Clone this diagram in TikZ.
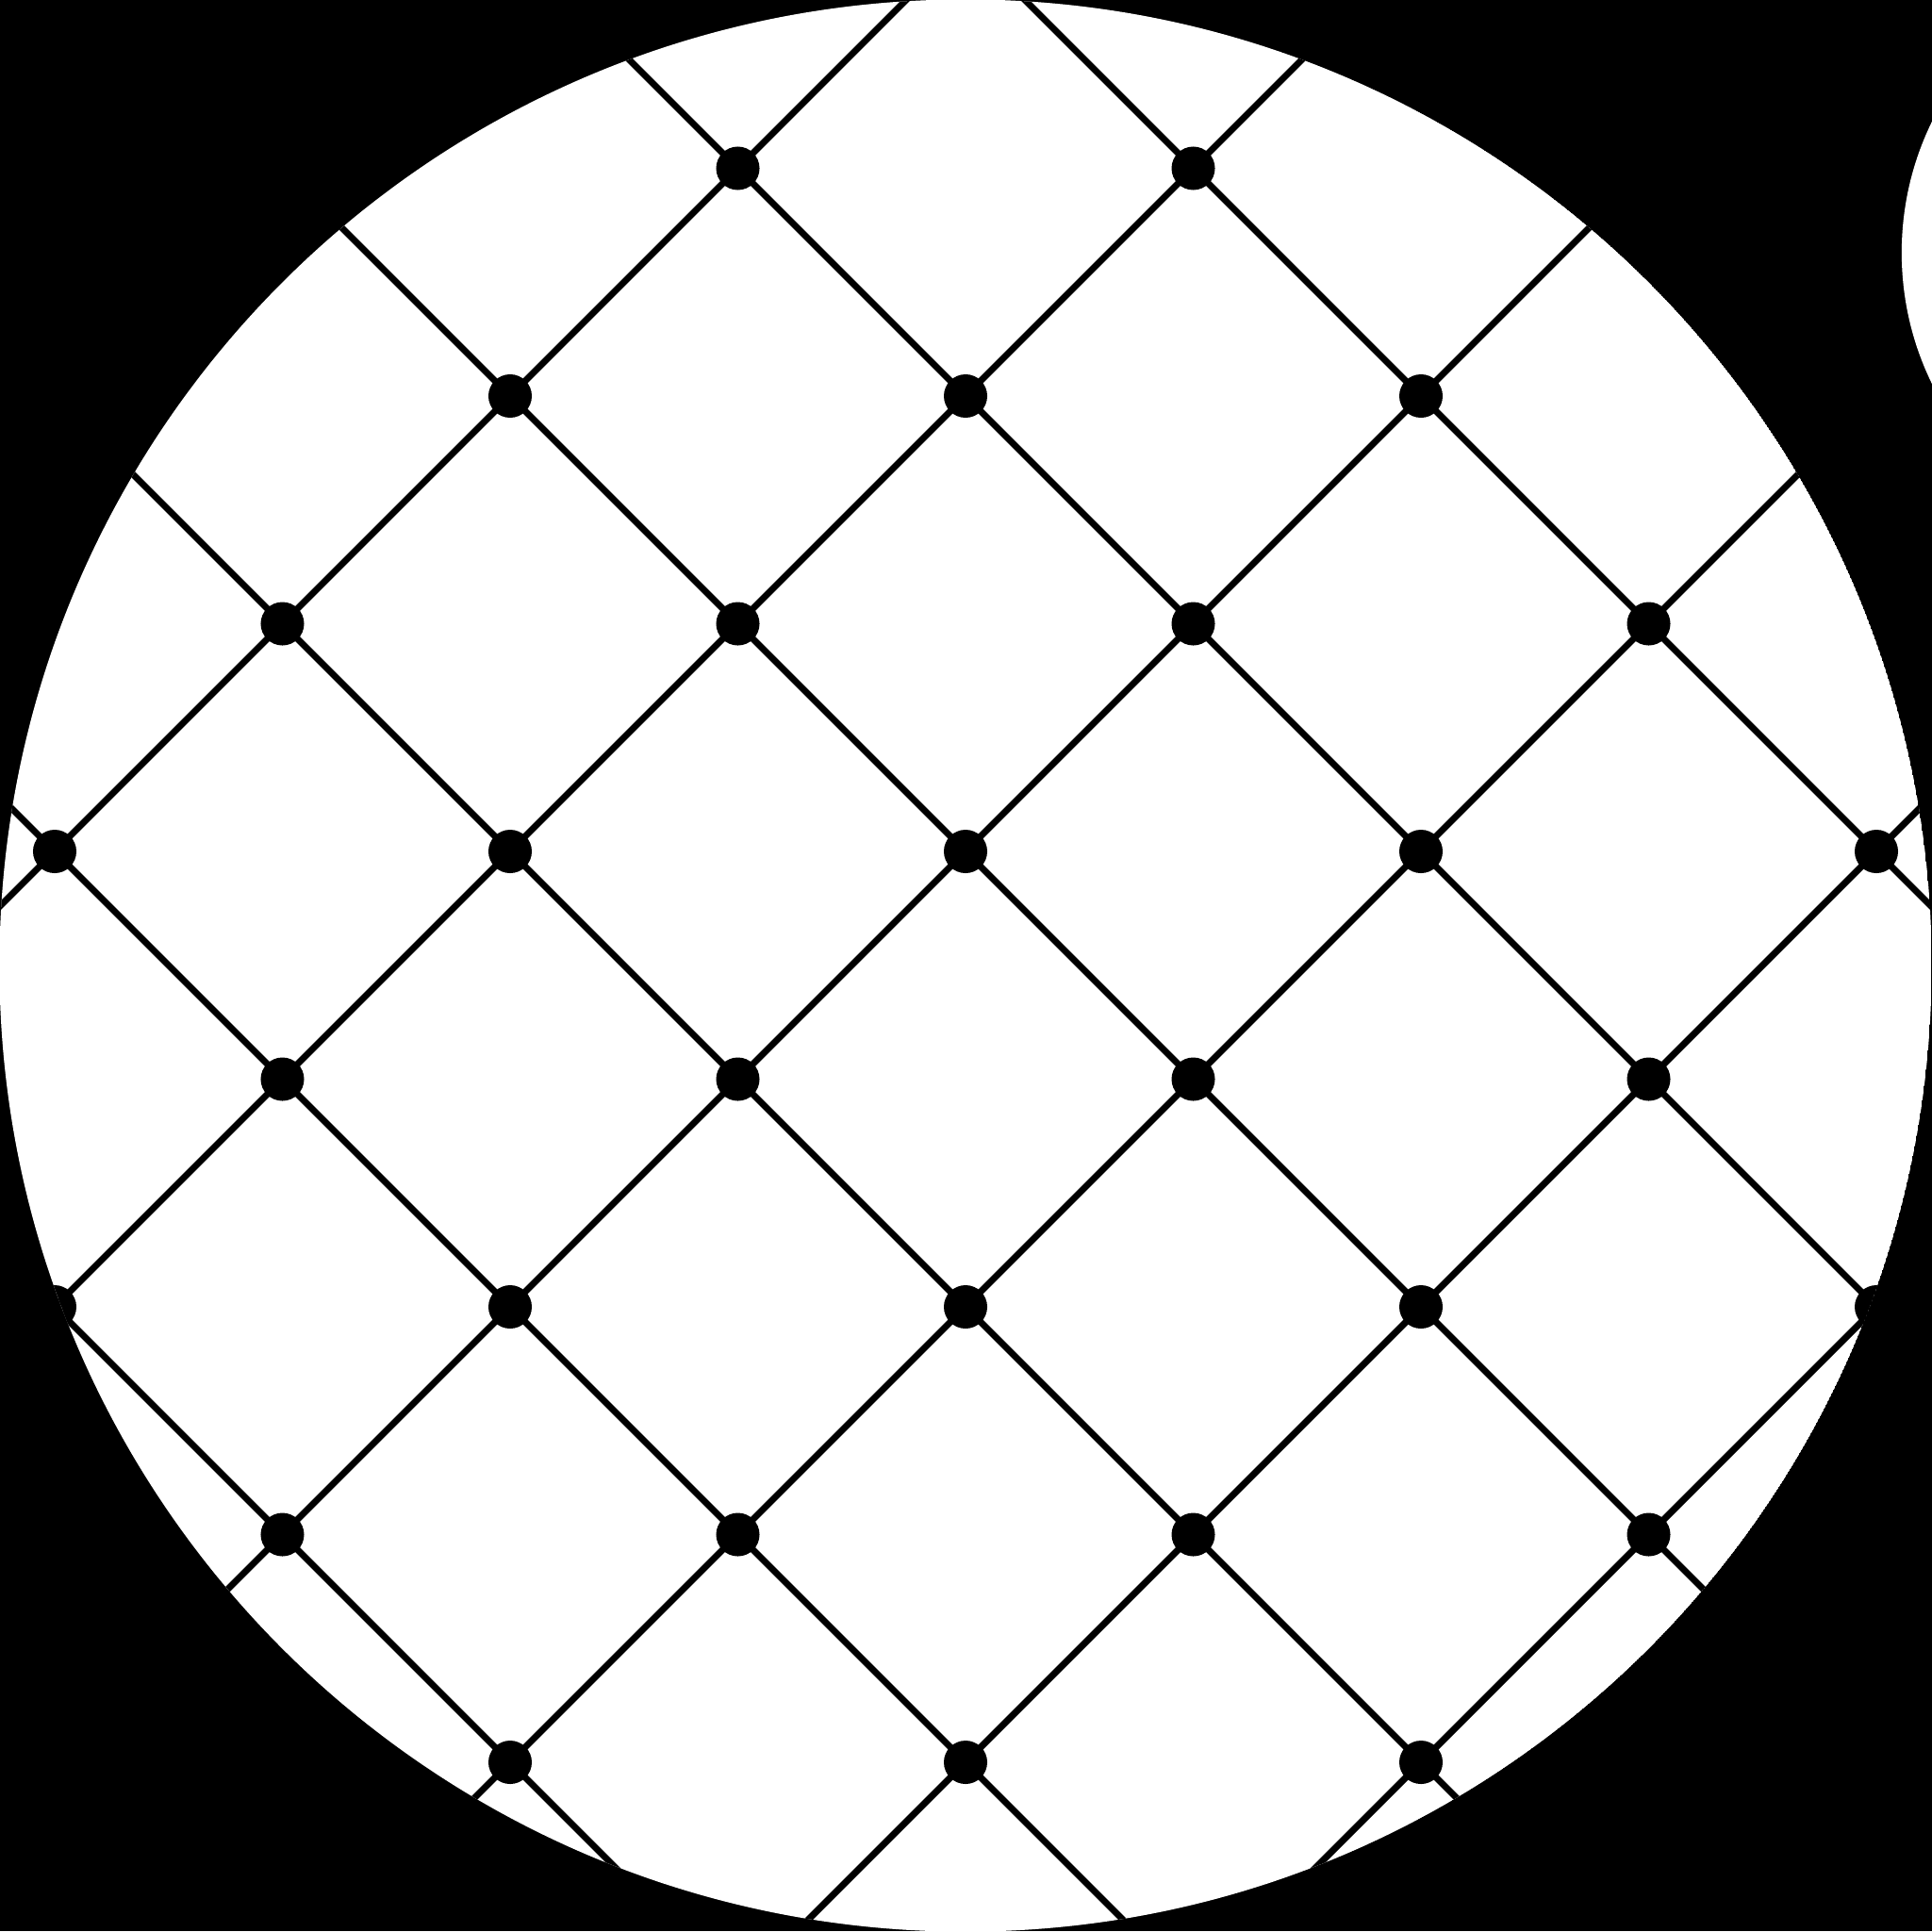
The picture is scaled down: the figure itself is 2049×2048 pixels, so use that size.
\documentclass[tikz,border=0pt]{standalone}
\usetikzlibrary{calc}
\tikzset{
  latline/.style={line width=0.07cm, black},
  dot/.style={circle, fill=black, inner sep=0pt, minimum size=0.46cm},
}
\begin{document}
\begin{tikzpicture}[x=0.01cm,y=-0.01cm]
\useasboundingbox (0,0) rectangle (2049,2048);
\fill[black] (0,0) rectangle (2049,2048);
% partial circle at the right edge
\fill[white] (2333,268) circle [radius=3.16cm];
\begin{scope}
  \clip (1024,1024) circle [radius=10.24cm];
  \fill[white] (1024,1024) circle [radius=10.24cm];
  \foreach \m in {-5,...,5}{
    \coordinate (p\m) at ({1024+483*\m},903);
    \draw[latline] ($(p\m)+(-2000,-2000)$) -- ($(p\m)+(2000,2000)$);
    \draw[latline] ($(p\m)+(-2000,2000)$) -- ($(p\m)+(2000,-2000)$);
  }
  \foreach \i in {-5,...,5}{
    \foreach \j in {-4,...,5}{
      \pgfmathtruncatemacro{\parity}{mod(abs(\i+\j),2)}
      \ifnum\parity=0
        \node[dot] (d\i_\j) at ({1024+241.5*\i},{903+241.5*\j}) {};
      \fi
    }
  }
\end{scope}
\end{tikzpicture}
\end{document}
